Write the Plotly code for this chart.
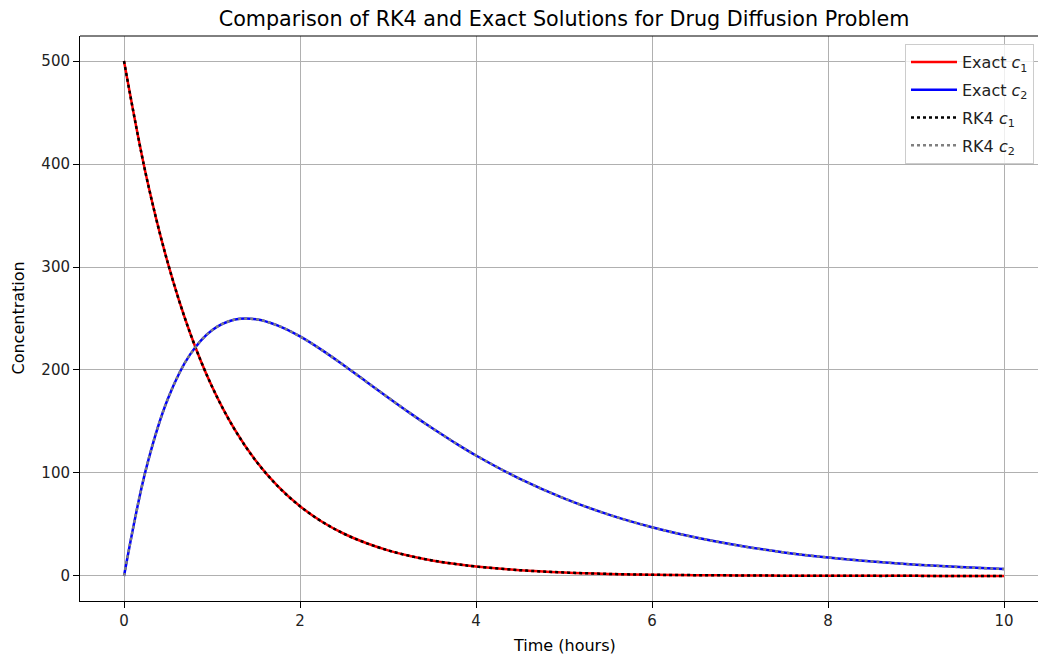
import plotly.graph_objects as go

# Values
t = [0, 0.25, 0.5, 0.75, 1, 1.25, 1.5, 1.75, 2, 2.25, 2.5, 2.75, 3, 3.25, 3.5, 3.75, 4,
     4.5, 5, 5.5, 6, 6.5, 7, 7.5, 8, 8.5, 9, 9.5, 10]
c1 = [500, 389.4, 303.3, 236.2, 183.9, 143.3, 111.6, 86.9, 67.7, 52.7, 41.0, 32.0, 24.9,
      19.4, 15.1, 11.8, 9.2, 5.6, 3.4, 2.0, 1.2, 0.8, 0.5, 0.3, 0.2, 0.1, 0.1, 0.0, 0.0]
c2 = [0, 103.7, 172.3, 214.9, 238.6, 248.8, 249.3, 243.1, 232.6, 219.3, 204.4, 188.9, 173.3,
      158.1, 143.6, 129.9, 117.0, 94.3, 75.4, 59.8, 47.3, 37.3, 29.3, 22.9, 18.0, 14.1,
      11.0, 8.6, 6.7]
x_ticks = [0, 2, 4, 6, 8, 10]
y_ticks = [0, 100, 200, 300, 400, 500]

FONT = "DejaVu Sans"
W, H = 1038, 658
L, T, B = 80, 36, 57
PW, PH = W - L, H - T - B

fig = go.Figure()
specs = [
    (c1, "Exact <i>c</i><sub>1</sub>", "red", "solid"),
    (c2, "Exact <i>c</i><sub>2</sub>", "blue", "solid"),
    (c1, "RK4 <i>c</i><sub>1</sub>", "black", "dot"),
    (c2, "RK4 <i>c</i><sub>2</sub>", "gray", "dot"),
]
for i, (ys, name, color, dash) in enumerate(specs):
    fig.add_trace(go.Scatter(x=t, y=ys, mode="lines", name=name, legendgroup=f"g{i}",
                             line=dict(color=color, width=2.5, dash=dash, shape="spline")))

axis_common = dict(
    showgrid=True, gridcolor="#b0b0b0", gridwidth=1,
    showline=True, linecolor="black", linewidth=1,
    ticks="outside", ticklen=6, tickcolor="black",
    tickfont=dict(family=FONT, size=15, color="#222"),
    zeroline=False, automargin=False,
)

fig.update_layout(
    width=W, height=H,
    margin=dict(l=L, r=0, t=T, b=B),
    paper_bgcolor="white", plot_bgcolor="white",
    title=dict(text="Comparison of RK4 and Exact Solutions for Drug Diffusion Problem",
               x=564 / W, xanchor="center", y=1 - 19 / H, yanchor="middle",
               font=dict(family=FONT, size=20.7, color="black")),
    xaxis=dict(axis_common, range=[-0.5, 10.386], tickvals=x_ticks),
    yaxis=dict(axis_common, range=[-24.3, 524.3], tickvals=y_ticks),
    legend=dict(x=(905 - L) / PW, y=(601 - 44) / PH, xanchor="left", yanchor="top",
                bgcolor="rgba(255,255,255,0.8)", bordercolor="#cccccc", borderwidth=1,
                font=dict(family=FONT, size=16, color="#222"),
                itemwidth=46, tracegroupgap=4),
    showlegend=True,
    annotations=[
        dict(text="Time (hours)", xref="paper", yref="paper", x=(564 - L) / PW, y=0,
             xanchor="center", yanchor="middle", yshift=-44, showarrow=False,
             font=dict(family=FONT, size=16, color="black")),
        dict(text="Concentration", xref="paper", yref="paper", x=0, y=0.5,
             xanchor="center", yanchor="middle", xshift=-62, textangle=-90, showarrow=False,
             font=dict(family=FONT, size=16, color="black")),
    ],
)
# top spine
fig.add_shape(type="line", xref="paper", yref="paper", x0=0, x1=1, y0=1, y1=1,
              line=dict(color="black", width=1))

fig.write_html("out.html",
               config={"displayModeBar": False},
               post_script="document.body.style.margin='0';"
                           "document.documentElement.style.overflow='hidden';")
